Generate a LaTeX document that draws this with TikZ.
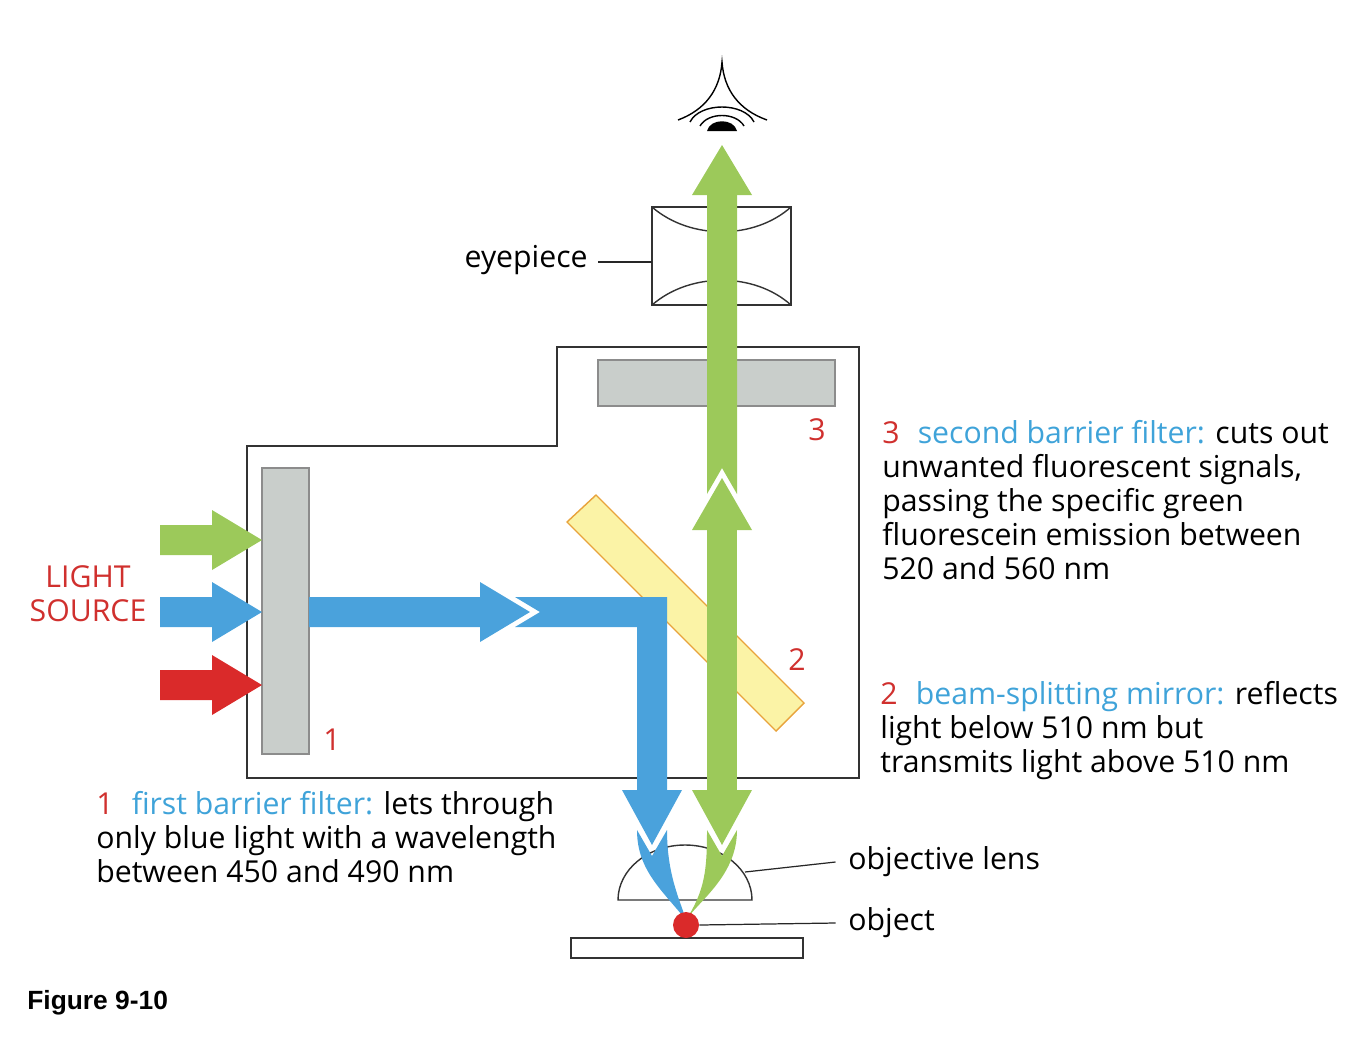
\documentclass[tikz,border=0pt]{standalone}
\usepackage{fontspec}
\setmainfont{Open Sans}
\usetikzlibrary{positioning}
\definecolor{beamblue}{HTML}{4AA2DC}
\definecolor{beamgreen}{HTML}{9CC95A}
\definecolor{beamred}{HTML}{DA2A2A}
\definecolor{labelred}{HTML}{D0302E}
\definecolor{labelblue}{HTML}{3FA3D9}
\definecolor{filtergray}{HTML}{C9CECB}
\definecolor{mirroryellow}{HTML}{FBF3A6}
\definecolor{mirroredge}{HTML}{E8A33C}
\tikzset{
		frameStyle/.style = {draw=black!80, line width=0.8pt},
		filter/.style =     {fill=filtergray, draw=black!45, line width=0.6pt},
		leader/.style =     {draw=black!85, line width=0.7pt},
		txt/.style =        {font=\fontsize{17.2}{19.4}\selectfont, align=left, inner sep=0pt},
		num/.style =        {txt, text=labelred}
}
\newcommand\rd[1]{\textcolor{labelred}{#1}}
\newcommand\bl[1]{\textcolor{labelblue}{#1}}

\begin{document}
\begin{tikzpicture}[x=0.02cm,y=-0.02cm]
  \useasboundingbox (0,0) rectangle (1368,1038);

  % housing
  \draw [frameStyle] (247,446) -- (557,446) -- (557,347) -- (859,347) -- (859,778) -- (247,778) -- cycle;

  % filters and mirror
  \draw [filter] (262,468) rectangle (309,754);
  \draw [filter] (598,360) rectangle (835,406);
  \draw [fill=mirroryellow, draw=mirroredge, line width=0.8pt]
    (567,522) -- (596,495) -- (804,703) -- (776,731) -- cycle;

  % objective lens, object and slide
  \draw [frameStyle] (618,900) arc (180:360:67 and 55) -- cycle;
  \draw [frameStyle] (571,938) rectangle (803,958);

  % eyepiece
  \draw [frameStyle] (652,207) rectangle (791,305);
  \draw [frameStyle] (652,207) .. controls (690,240) and (754,240) .. (791,207);
  \draw [frameStyle] (652,305) .. controls (690,272) and (754,272) .. (791,305);

  % light source arrows
  \foreach \y/\c in {540/beamgreen, 612/beamblue, 685/beamred}
    \fill [\c] (160,\y-15) -- (212,\y-15) -- (212,\y-30) -- (262,\y) -- (212,\y+30)
      -- (212,\y+15) -- (160,\y+15) -- cycle;

  % blue excitation beam
  \fill [beamblue] (309,597) -- (480,597) -- (480,582) -- (530,612) -- (480,642) -- (480,627) -- (309,627) -- cycle;
  \fill [beamblue] (515,597) -- (667,597) -- (667,790) -- (637,790) -- (637,627) -- (515,627) -- (540,612) -- cycle;
  \fill [beamblue] (622,790) -- (682,790) -- (652,845) -- cycle;
  \fill [beamblue] (637,830) -- (652,856) -- (667,830) .. controls (667,875) and (680,900) .. (686,920)
    .. controls (662,890) and (637,870) .. (637,830) -- cycle;

  % green emission beam
  \fill [beamgreen] (707,195) -- (737,195) -- (737,494) -- (722,468) -- (707,494) -- cycle;
  \fill [beamgreen] (692,195) -- (722,145) -- (752,195) -- cycle;
  \fill [beamgreen] (692,530) -- (722,478) -- (752,530) -- cycle;
  \fill [beamgreen] (707,530) rectangle (737,790);
  \fill [beamgreen] (692,790) -- (752,790) -- (722,845) -- cycle;
  \fill [beamgreen] (707,830) -- (722,856) -- (737,830) .. controls (737,875) and (700,900) .. (686,920)
    .. controls (705,890) and (707,870) .. (707,830) -- cycle;

  \node [circle, fill=beamred, inner sep=0pt, minimum size=0.52cm] (object) at (686,925) {};

  % eye
  \draw [black, line width=0.8pt] (678,120) .. controls (705,110) and (720,90) .. (722,62)
    .. controls (724,90) and (739,110) .. (767,120);
  \draw [black, line width=0.8pt] (690,122) .. controls (700,102) and (744,102) .. (754,122);
  \draw [black, line width=0.8pt] (700,126) .. controls (708,112) and (736,112) .. (744,126);
  \fill [black] (707,131) .. controls (710,118) and (734,118) .. (737,131) -- cycle;

  % labels
  \node [txt, anchor=east] (eyepiece) at (588,260) {eyepiece};
  \coordinate (eyeL) at (652,262);
  \draw [leader] (eyepiece.east) ++(10,2) -- (eyeL);

  \node [txt, anchor=west] (lenslbl) at (848,862) {objective lens};
  \coordinate (lensP) at (745,872);
  \draw [leader] (lensP) -- ([xshift=-0.25cm]lenslbl.west);

  \node [txt, anchor=west] (objlbl) at (848,923) {object};
  \draw [leader] (object.east) -- ([xshift=-0.25cm]objlbl.west);

  \node [txt, align=center, text=labelred, anchor=center] (source) at (88,594) {LIGHT\\SOURCE};

  \node [num] (n1) at (332,740) {1};
  \node [num] (n2) at (797,660) {2};
  \node [num] (n3) at (817,430) {3};

  \node [txt, anchor=north west] (desc3) at (882,420)
    {\rd{3}\hspace{0.6em}\bl{second barrier filter:} cuts out\\unwanted fluorescent signals,\\passing the specific green\\fluorescein emission between\\520 and 560 nm};
  \node [txt, anchor=north west] (desc2) at (880,681)
    {\rd{2}\hspace{0.6em}\bl{beam-splitting mirror:} reflects\\light below 510 nm but\\transmits light above 510 nm};
  \node [txt, anchor=north west] (desc1) at (96,791)
    {\rd{1}\hspace{0.6em}\bl{first barrier filter:} lets through\\only blue light with a wavelength\\between 450 and 490 nm};

  \node [font=\fontspec{Liberation Sans}\bfseries\fontsize{15}{17}\selectfont, anchor=west, inner sep=0pt] (fig) at (27,1003) {Figure 9-10};
\end{tikzpicture}
\end{document}
